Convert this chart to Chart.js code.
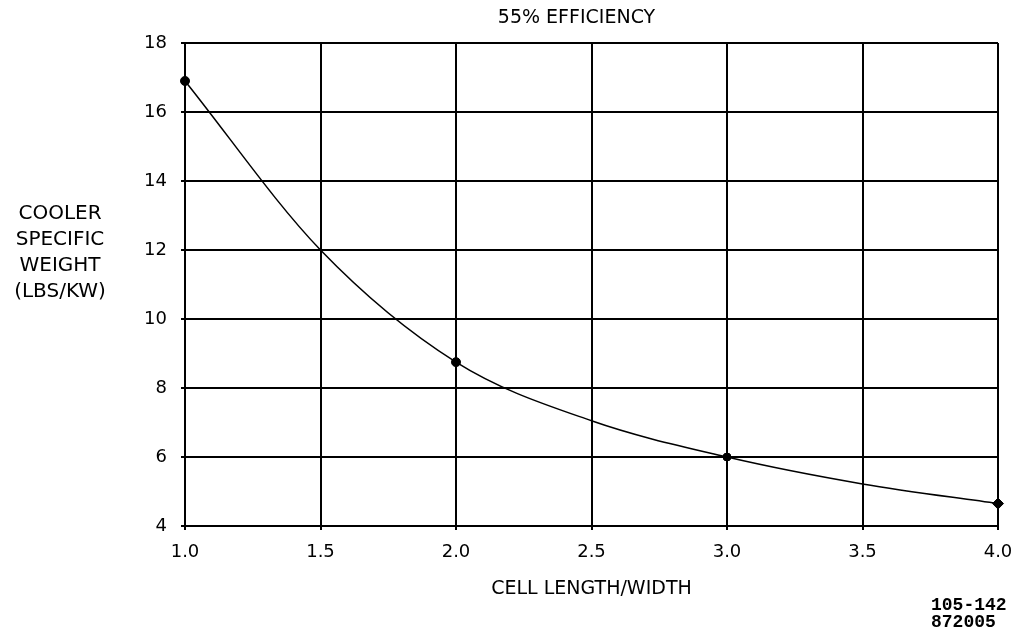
<!DOCTYPE html>
<html>
<head>
<meta charset="utf-8">
<script src="https://cdn.jsdelivr.net/npm/chart.js@4.4.1/dist/chart.umd.min.js"></script>
<style>
html,body{margin:0;padding:0;background:#fff;}
#wrap{width:1018px;height:632px;position:relative;}
</style>
</head>
<body>
<div id="wrap"><canvas id="c" width="1018" height="632"></canvas></div>
<script>
// Data
const curveX = [1.0, 1.5, 2.0, 2.5, 3.0, 3.5, 4.0];
const curveY = [16.9, 12.0, 8.75, 7.05, 6.0, 5.22, 4.65];
const markerX = [1.0, 2.0, 3.0, 4.0];
const markerY = [16.9, 8.75, 6.0, 4.65];
const markerShapes = ['circle', 'circle', 'circle', 'rectRot'];
const yTicks = [4, 6, 8, 10, 12, 14, 16, 18];
const xTicks = [1.0, 1.5, 2.0, 2.5, 3.0, 3.5, 4.0];
const titleText = '55% EFFICIENCY';
const xTitle = 'CELL LENGTH/WIDTH';
const yTitleLines = ['COOLER', 'SPECIFIC', 'WEIGHT', '(LBS/KW)'];
const codeLines = ['105-142', '872005'];

const FONT = "'DejaVu Sans', sans-serif";

const textPlugin = {
  id: 'extraText',
  afterDraw(chart) {
    const ctx = chart.ctx;
    const area = chart.chartArea;
    ctx.save();
    ctx.fillStyle = '#000';
    ctx.textAlign = 'center';
    ctx.textBaseline = 'middle';
    // title
    ctx.font = '19px ' + FONT;
    ctx.fillText(titleText, (area.left + area.right) / 2 - 15, 18);
    // x title
    ctx.fillText(xTitle, (area.left + area.right) / 2, 589);
    // y title
    ctx.font = '20px ' + FONT;
    const ys = [214, 240, 266, 292];
    yTitleLines.forEach((t, i) => ctx.fillText(t, 60, ys[i]));
    // code
    ctx.font = 'bold 18px "Liberation Mono", "DejaVu Sans Mono", monospace';
    ctx.textAlign = 'left';
    ctx.fillText(codeLines[0], 931, 605);
    ctx.fillText(codeLines[1], 931, 622);
    ctx.restore();
  }
};

new Chart(document.getElementById('c'), {
  type: 'scatter',
  data: {
    datasets: [
      {
        data: curveX.map((x, i) => ({x: x, y: curveY[i]})),
        showLine: true,
        borderColor: '#000',
        borderWidth: 1.5,
        pointRadius: 0,
        cubicInterpolationMode: 'monotone',
        fill: false,
        clip: false
      },
      {
        data: markerX.map((x, i) => ({x: x, y: markerY[i]})),
        showLine: false,
        pointStyle: markerShapes,
        pointRadius: [4.5, 4.5, 4, 5.5],
        backgroundColor: '#000',
        borderColor: '#000',
        borderWidth: 1,
        clip: false
      }
    ]
  },
  options: {
    responsive: false,
    animation: false,
    devicePixelRatio: 1,
    layout: {padding: {top: 43, right: 0, left: 0, bottom: 0}},
    plugins: {
      legend: {display: false},
      tooltip: {enabled: false},
      title: {display: false}
    },
    scales: {
      x: {
        type: 'linear',
        min: 1, max: 4,
        afterBuildTicks: (s) => { s.ticks = xTicks.map(v => ({value: v})); },
        afterFit: (s) => { s.height = 106; s.paddingRight = 20; },
        ticks: {
          color: '#000',
          font: {size: 18, family: FONT},
          padding: 12,
          callback: (v) => Number(v).toFixed(1)
        },
        grid: {color: '#000', lineWidth: 2, tickLength: 4, tickColor: '#000'},
        border: {color: '#000', width: 2}
      },
      y: {
        min: 4, max: 18,
        afterBuildTicks: (s) => { s.ticks = yTicks.map(v => ({value: v})); },
        afterFit: (s) => { s.width = 185; },
        ticks: {
          color: '#000',
          font: {size: 18, family: FONT},
          padding: 14
        },
        grid: {color: '#000', lineWidth: 2, tickLength: 4, tickColor: '#000'},
        border: {color: '#000', width: 2}
      }
    }
  },
  plugins: [textPlugin]
});
</script>
</body>
</html>
